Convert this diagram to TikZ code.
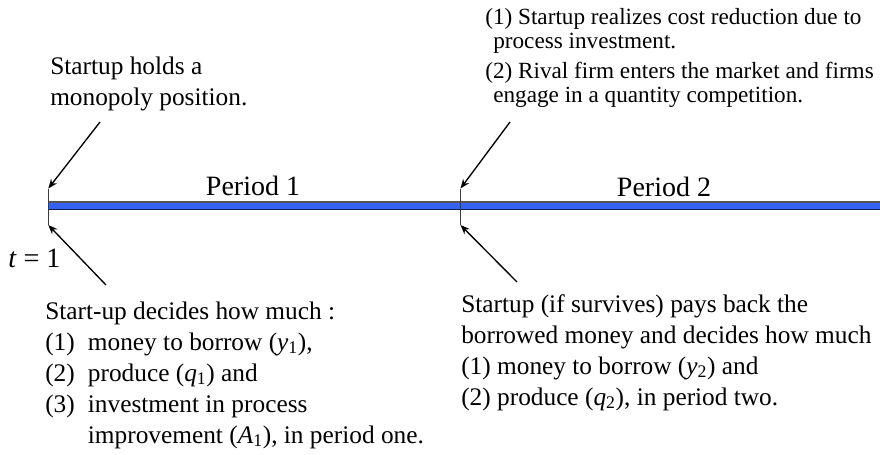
\documentclass[tikz,border=0pt]{standalone}
\usepackage{fontspec}
\setmainfont{Liberation Serif}
\usepackage{tikz}
\usetikzlibrary{positioning, arrows.meta}

\definecolor{barblue}{RGB}{51,99,240}
\definecolor{barnavy}{RGB}{20,30,80}
\definecolor{bargray}{RGB}{85,85,85}

\newcommand{\vsub}[2]{\textit{#1}\textsubscript{#2}}

\tikzset{
  txt/.style={inner sep=0pt, anchor=base west, align=left,
              font=\fontsize{19}{23.25}\selectfont},
  small/.style={inner sep=0pt, anchor=base west, align=left,
                font=\fontsize{17.4}{18}\selectfont},
  big/.style={inner sep=0pt, font=\fontsize{21}{25}\selectfont},
  pointer/.style={-{Stealth[length=7pt, width=5.5pt]}, line width=1pt},
  tick/.style={line width=1.2pt, bargray!70!black}
}

\begin{document}
\begin{tikzpicture}[x=0.75pt, y=-0.75pt]
  	\useasboundingbox (0,0) rectangle (880,454);

  	% time line
  	\fill[barblue] (49,202) rectangle (880,209.5);
  	\draw[bargray, line width=0.9pt] (49,202) -- (880,202);
  	\draw[barnavy, line width=1pt] (49,209.5) -- (880,209.5);

  	\coordinate (S1) at (48.3,188.5);
  	\coordinate (E1) at (48.3,225);
  	\coordinate (S2) at (460.5,188.5);
  	\coordinate (E2) at (460.5,225);
  	\draw[tick] (S1) -- (E1);
  	\draw[tick] (S2) -- (E2);

  	\node[big, anchor=base] (P1) at (253,195) {Period 1};
  	\node[big, anchor=base] (P2) at (664,196) {Period 2};
  	\node[big, anchor=base west] (T1) at (8,267) {\textit{t} = 1};

  	% texts (anchored at the last line)
  	\node[txt] (hold) at (50,105) {Startup holds a\\monopoly position.};
  	\node[small] (enter) at (485,102) {(1) Startup realizes cost reduction due to\\
  	  \hspace*{6pt}process investment.\\[4pt]
  	  (2) Rival firm enters the market and firms\\
  	  \hspace*{6pt}engage in a quantity competition.};
  	\node[txt] (dec1) at (45,443) {Start-up decides how much :\\
  	  \makebox[32pt][l]{(1)}money to borrow (\vsub{y}{1}),\\
  	  \makebox[32pt][l]{(2)}produce (\vsub{q}{1}) and\\
  	  \makebox[32pt][l]{(3)}investment in process\\
  	  \hspace*{32pt}improvement (\vsub{A}{1}), in period one.};
  	\node[txt] (dec2) at (461,405) {Startup (if survives) pays back the\\
  	  borrowed money and decides how much\\
  	  (1) money to borrow (\vsub{y}{2}) and\\
  	  (2) produce (\vsub{q}{2}), in period two.};

  	% arrows
  	\coordinate (A1) at (100,122);
  	\coordinate (A2) at (106,285);
  	\coordinate (A3) at (510,122);
  	\coordinate (A4) at (517,282);
  	\draw[pointer] (A1) -- (S1);
  	\draw[pointer] (A2) -- (E1);
  	\draw[pointer] (A3) -- (S2);
  	\draw[pointer] (A4) -- (E2);
\end{tikzpicture}
\end{document}
